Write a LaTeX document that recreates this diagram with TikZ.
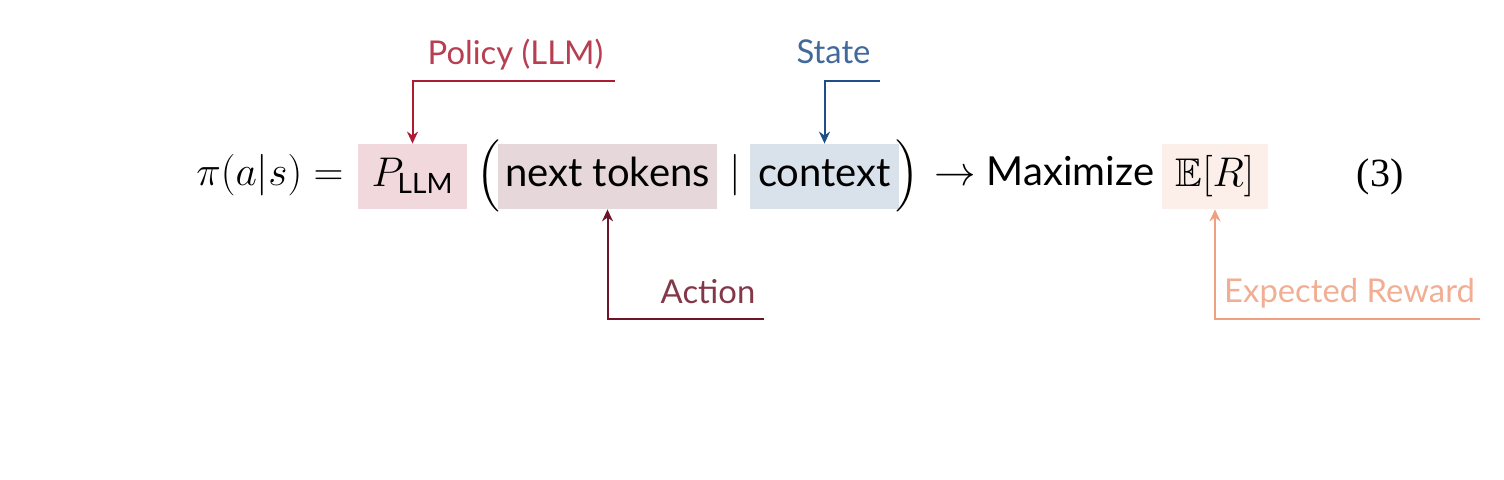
\documentclass[tikz,border=0pt]{standalone}
\usepackage{amsmath,amssymb}
\usepackage[no-math]{fontspec}
\setmainfont{Lato}
\newfontfamily\eqnofont{Liberation Serif}
\usetikzlibrary{arrows.meta}

\definecolor{polred}{RGB}{172,28,50}
\definecolor{statblue}{RGB}{31,78,137}
\definecolor{actwine}{RGB}{110,20,40}
\definecolor{rewpeach}{RGB}{240,160,128}

\tikzset{
  hlbox/.style={fill=#1!17, inner sep=0pt, minimum height=32.5pt,
    text height=15pt, text depth=4.5pt, font=\fontsize{20}{24}\selectfont},
  eqtext/.style={inner sep=0pt, anchor=base, font=\fontsize{20}{24}\selectfont},
  tag/.style={inner sep=0pt, anchor=base, text=#1!85, font=\fontsize{16.4}{20}\selectfont},
  callout/.style={draw=#1, line width=1pt, -{Stealth[length=6pt,width=5.5pt]}},
}

\begin{document}
\begin{tikzpicture}[x=0.5pt,y=-0.5pt]
\useasboundingbox (0,0) rectangle (1504,480);
% equation row
\node[eqtext] (lhs) at (270,186) {$\pi(a|s) =$};
\node[hlbox=polred, minimum width=54.5pt] (pllm) at (412.5,176.5) {$P_{\text{LLM}}$};
\node[eqtext] (lpar) at (488,186) {$\Big($};
\node[hlbox=actwine, minimum width=109.5pt] (nxt) at (607.5,176.5) {next tokens};
\node[eqtext] (bar) at (735,186) {$|$};
\node[hlbox=statblue, minimum width=74.5pt] (ctx) at (824.5,176.5) {context};
\node[eqtext] (rpar) at (907,186) {$\Big)$};
\node[eqtext] (arr) at (955,186) {$\rightarrow$};
\node[eqtext] (maxi) at (1070.5,186) {Maximize};
\node[hlbox=rewpeach, minimum width=53pt] (er) at (1215,176.5) {$\mathbb{E}[R]$};
\node[eqtext, font=\fontsize{20}{24}\eqnofont] (eqno) at (1380,187) {(3)};
% labels
\node[tag=polred] (poltxt) at (515.5,65) {Policy (LLM)};
\node[tag=statblue] (stattxt) at (833.5,64) {State};
\node[tag=actwine] (acttxt) at (708,304) {Action};
\node[tag=rewpeach] (rewtxt) at (1349.5,303) {Expected Reward};
\coordinate (polend) at (615,81);
\coordinate (statend) at (880,81);
\coordinate (actend) at (764,319);
\coordinate (rewend) at (1480,319);
% callouts
\draw[callout=polred] (polend) -| (pllm.north);
\draw[callout=statblue] (statend) -| (ctx.north);
\draw[callout=actwine] (actend) -| (nxt.south);
\draw[callout=rewpeach] (rewend) -| (er.south);
\end{tikzpicture}
\end{document}
